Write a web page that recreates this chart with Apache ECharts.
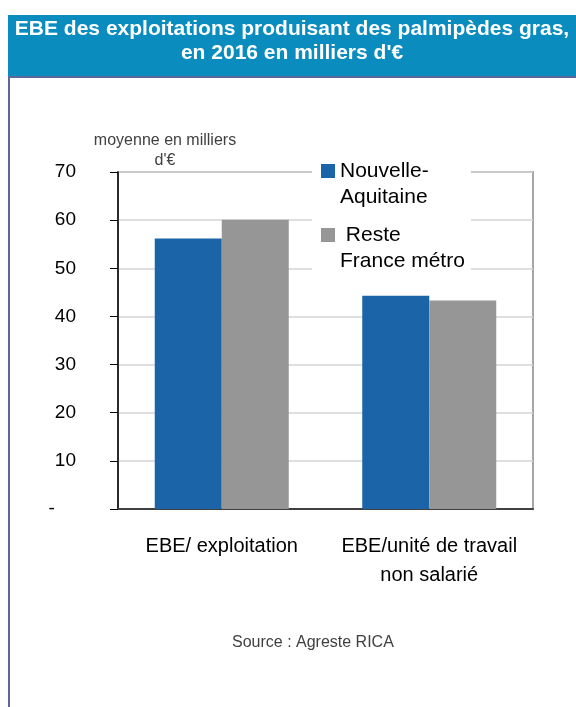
<!DOCTYPE html>
<html>
<head>
<meta charset="utf-8">
<script src="https://cdn.jsdelivr.net/npm/echarts@6/dist/echarts.min.js"></script>
<style>
  html, body { margin: 0; padding: 0; background: #fff; }
  #chart { width: 576px; height: 707px; }
</style>
</head>
<body>
<div id="chart"></div>
<script>
var categories = ["EBE/ exploitation", "EBE/unité de travail\nnon salarié"];
var seriesNames = ["Nouvelle-\nAquitaine", " Reste\nFrance métro"];
var nouvelleAquitaine = [56.2, 44.3];
var resteFrance = [60.1, 43.3];
var yTicks = { min: 0, max: 70, interval: 10 };

document.addEventListener("DOMContentLoaded", function () {
    var chartDom = document.getElementById("chart");
    var myChart = echarts.init(chartDom);
    var font = "Liberation Sans, Arial, sans-serif";

    myChart.setOption({
        animation: false,
        textStyle: { fontFamily: font },
        title: [
            {
                text: "EBE des exploitations produisant des palmipèdes gras,\nen 2016 en milliers d'€",
                left: 292, top: 17, padding: 0, textAlign: "center",
                textStyle: { color: "#fff", fontSize: 21, fontWeight: "bold", lineHeight: 24, fontFamily: font }
            },
            {
                text: "Source : Agreste RICA",
                left: 232, top: 635, padding: 0,
                textStyle: { color: "#404040", fontSize: 16, fontWeight: "normal", fontFamily: font }
            }
        ],
        graphic: [
            { type: "rect", shape: { x: 8, y: 15, width: 568, height: 61 }, style: { fill: "#0a8cbf" }, silent: true },
            { type: "line", shape: { x1: 8, y1: 77, x2: 576, y2: 77 }, style: { stroke: "#5b6899", lineWidth: 2 }, silent: true },
            { type: "line", shape: { x1: 9, y1: 76, x2: 9, y2: 707 }, style: { stroke: "#5b6899", lineWidth: 2 }, silent: true }
        ],
        grid: {
            left: 118, right: 43, top: 172, bottom: 198,
            outerBoundsMode: "none",
            show: true, borderColor: "#a6a6a6", borderWidth: 2
        },
        legend: {
            orient: "vertical",
            left: 312, top: 132,
            padding: [0, 6, 0, 9],
            backgroundColor: "#fff",
            itemWidth: 14, itemHeight: 14, itemGap: -14,
            icon: "rect",
            data: seriesNames,
            formatter: function (name) { return "\n" + name; },
            textStyle: { fontSize: 21, color: "#000", lineHeight: 26, fontFamily: font }
        },
        xAxis: {
            type: "category",
            data: categories,
            axisLine: { lineStyle: { color: "#404040", width: 2 } },
            axisTick: { length: 6, lineStyle: { color: "#000", width: 1 } },
            axisLabel: { interval: 0, fontSize: 20, color: "#000", margin: 23, lineHeight: 29 }
        },
        yAxis: {
            type: "value",
            min: yTicks.min, max: yTicks.max, interval: yTicks.interval,
            name: "moyenne en milliers\nd'€",
            nameLocation: "end",
            nameGap: 1,
            nameMoveOverlap: false,
            nameTextStyle: { fontSize: 16, color: "#404040", align: "center", lineHeight: 20, padding: [0, 0, 0, 94] },
            axisLine: { show: true, lineStyle: { color: "#000", width: 1.5 } },
            axisTick: { show: true, length: 8, lineStyle: { color: "#000" } },
            axisLabel: {
                fontSize: 19, color: "#000", margin: 42,
                formatter: function (v) { return v === 0 ? "-    " : String(v); }
            },
            splitLine: { lineStyle: { color: "#d4d4d4", width: 1.5 } }
        },
        series: [
            {
                name: seriesNames[0], type: "bar", data: nouvelleAquitaine,
                barWidth: 67, barGap: "0%", itemStyle: { color: "#1b64a8" }
            },
            {
                name: seriesNames[1], type: "bar", data: resteFrance,
                barWidth: 67, barGap: "0%", itemStyle: { color: "#969696" }
            }
        ]
    });

    window.addEventListener("resize", function () {
        myChart.resize();
    });
});
</script>
</body>
</html>
